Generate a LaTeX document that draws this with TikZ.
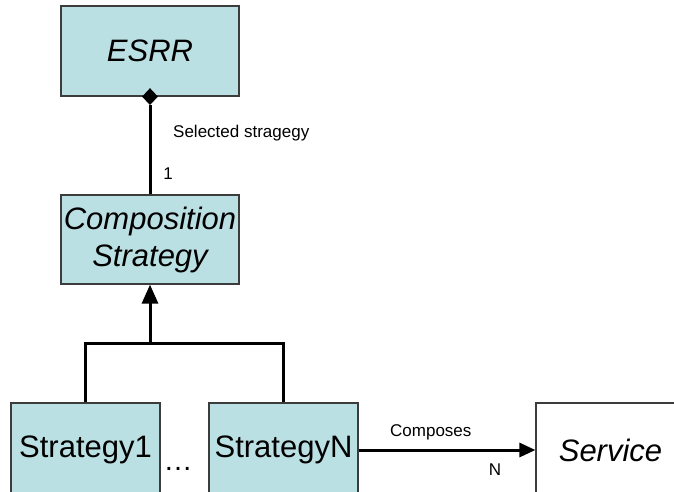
\documentclass[tikz,border=0pt]{standalone}
\usepackage{fontspec}
\setmainfont{Liberation Sans}
\usetikzlibrary{arrows.meta,shapes.geometric}
\definecolor{boxfill}{RGB}{187,224,227}
\definecolor{boxline}{RGB}{60,60,60}
\tikzset{
  umlbox/.style={draw=boxline,line width=1.2pt,fill=boxfill,inner sep=0pt,
    font=\fontsize{31}{37}\selectfont,align=center},
  conn/.style={line width=3pt,black},
  lbl/.style={font=\fontsize{17}{20}\selectfont,inner sep=0pt},
}
\begin{document}
\begin{tikzpicture}[x=1pt,y=-1pt]
\useasboundingbox (0,0) rectangle (674,491);
\clip (0,0) rectangle (674,491);
\fill[white] (0,0) rectangle (674,491);
\node[umlbox,minimum width=178pt,minimum height=90pt] (esrr) at (150,51) {\itshape ESRR};
\node[umlbox,minimum width=178pt,minimum height=89pt] (comp) at (150,239.5) {\itshape Composition\\\itshape Strategy};
\node[umlbox,minimum width=149pt,minimum height=94pt] (s1) at (85.5,450) {Strategy1};
\node[umlbox,minimum width=149pt,minimum height=94pt] (sN) at (283.5,450) {StrategyN};
\node[umlbox,fill=white,minimum width=149pt,minimum height=94pt] (serv) at (610.5,450) {\itshape Service};
\node[inner sep=0pt,font=\fontsize{29}{35}\selectfont] (dots) at (178,469) {…};
\node[diamond,fill=black,inner sep=0pt,minimum width=16pt,minimum height=17pt] (dia) at (esrr.south) {};
\draw[conn] (dia.south) -- (comp.north);
\coordinate (junc) at (150,343);
\draw[conn,line join=miter] (s1.north) |- (junc) -| (sN.north);
\draw[conn,-{Triangle[length=19pt,width=16pt]}] (junc) -- (comp.south);
\draw[conn,-{Triangle[length=16pt,width=14pt]}] (sN.east) -- (serv.west);
\node[lbl,anchor=west] (sel) at (173,133) {Selected stragegy};
\node[lbl] (one) at (168,174) {1};
\node[lbl,anchor=west] (compo) at (390,432) {Composes};
\node[lbl] (n) at (495,470) {N};
\end{tikzpicture}
\end{document}
